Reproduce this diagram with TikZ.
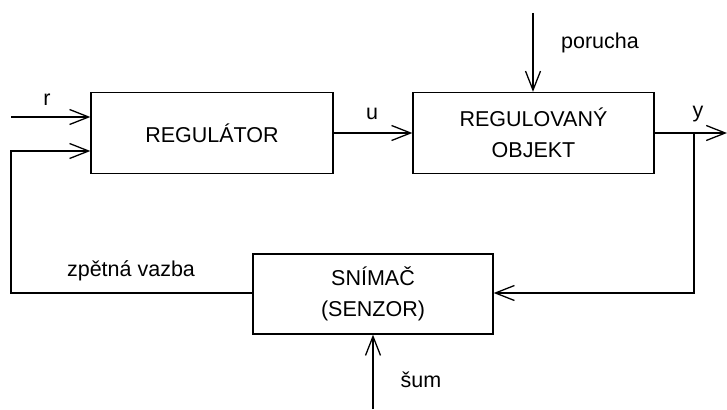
\documentclass[tikz,border=0pt]{standalone}
\usepackage{fontspec}
\setmainfont{Liberation Sans}
\usetikzlibrary{arrows.meta}
\begin{document}
\begin{tikzpicture}[x=1pt,y=-1pt,
  blok/.style={draw, line width=1.3pt, inner sep=0pt, align=center, font=\fontsize{21.5}{31}\selectfont},
  lbl/.style={inner sep=0pt, font=\fontsize{21.5}{24}\selectfont},
  sig/.style={line width=1.3pt, -{Straight Barb[length=19pt,width=15pt,line width=1.3pt]}},
  wire/.style={line width=1.3pt}]
\useasboundingbox (0,0) rectangle (727,409);
% blocks
\node[blok, minimum width=242pt, minimum height=81pt] (reg) at (212,133) {REGULÁTOR};
\node[blok, minimum width=241pt, minimum height=81pt] (obj) at (533.5,133) {REGULOVANÝ\\OBJEKT};
\node[blok, minimum width=240pt, minimum height=80pt] (sen) at (373,294) {SNÍMAČ\\(SENZOR)};
% free ends
\coordinate (rin) at (11,117);
\coordinate (fbl) at (11,293);
\coordinate (fbt) at (11,151);
\coordinate (por) at (533,13);
\coordinate (yout) at (727,133);
\coordinate (br) at (694,133);
\coordinate (brd) at (694,293);
\coordinate (sumin) at (373,409);
% connectors
\draw[sig] (rin) -- (rin -| reg.west);
\draw[sig] (reg.east |- 0,133) -- (obj.west |- 0,133);
\draw[sig] (por) -- (por |- obj.north);
\draw[sig] (obj.east |- 0,133) -- (yout);
\draw[sig] (br) -- (brd) -- (brd -| sen.east);
\draw[sig] (sen.west |- fbl) -- (fbl) -- (fbt) -- (fbt -| reg.west);
\draw[sig] (sumin) -- (sumin |- sen.south);
% labels
\node[lbl] (lr) at (47,100) {r};
\node[lbl] (lu) at (372,114) {u};
\node[lbl] (ly) at (698,114) {y};
\node[lbl] (lp) at (600,43) {porucha};
\node[lbl] (lz) at (131,271) {zpětná vazba};
\node[lbl] (ls) at (421,380) {šum};
\end{tikzpicture}
\end{document}
